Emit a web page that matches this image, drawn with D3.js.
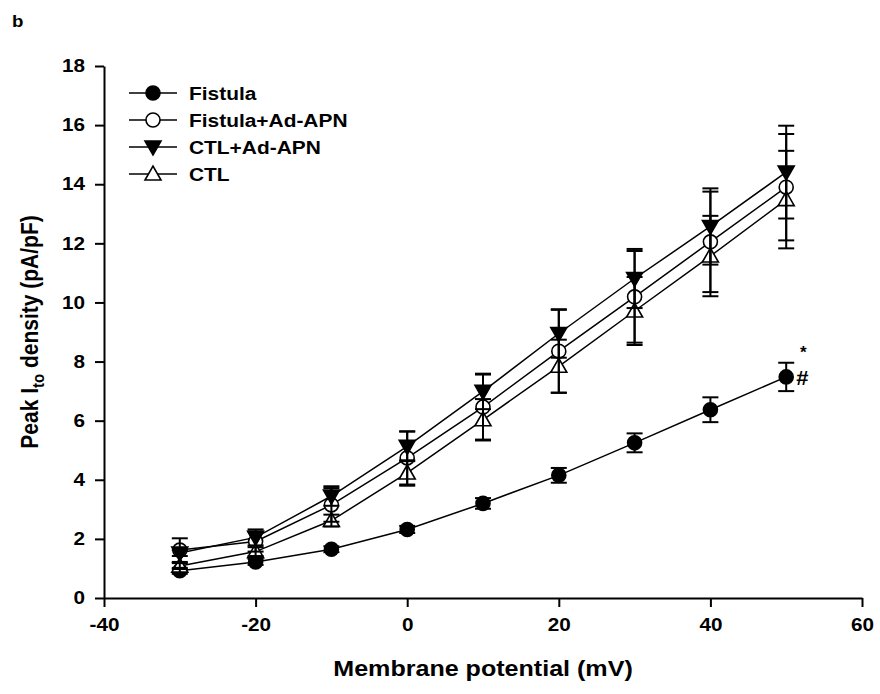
<!DOCTYPE html>
<html><head><meta charset="utf-8">
<script src="https://cdn.jsdelivr.net/npm/d3@7"></script>
<style>body{margin:0;background:#fff}svg{display:block}text{font-family:"Liberation Sans",Arial,sans-serif;font-weight:bold;fill:#000}</style>
</head><body>
<script>
const voltages = [-30,-20,-10,0,10,20,30,40,50];
const fistula = [0.92,1.22,1.65,2.32,3.2,4.15,5.25,6.37,7.48];
const fistulaErr = [0.1,0.1,0.1,0.12,0.18,0.25,0.32,0.42,0.48];
const fistulaApn = [1.62,1.91,3.15,4.74,6.46,8.35,10.19,12.05,13.9];
const fistulaApnErr = [0.4,0.34,0.57,0.9,1.1,1.4,1.55,1.7,1.8];
const ctlApn = [1.52,2.05,3.45,5.13,6.99,8.95,10.81,12.57,14.41];
const ctlApnErr = [0.1,0.27,0.33,0.5,0.6,0.82,1.0,1.29,1.57];
const ctl = [1.08,1.57,2.62,4.23,6.03,7.84,9.71,11.57,13.48];
const ctlErr = [0.1,0.15,0.2,0.43,0.7,0.9,1.15,1.36,1.65];
const seriesNames = ["Fistula","Fistula+Ad-APN","CTL+Ad-APN","CTL"];
const xTicks = [-40,-20,0,20,40,60];
const yTicks = [0,2,4,6,8,10,12,14,16,18];

const series = [
  {name: seriesNames[0], y: fistula, e: fistulaErr, sym: "circle", fill: "#000"},
  {name: seriesNames[1], y: fistulaApn, e: fistulaApnErr, sym: "circle", fill: "#fff"},
  {name: seriesNames[2], y: ctlApn, e: ctlApnErr, sym: "down", fill: "#000"},
  {name: seriesNames[3], y: ctl, e: ctlErr, sym: "up", fill: "#fff"}
];

const W = 880, H = 694;
const svg = d3.select("body").append("svg").attr("width", W).attr("height", H);
const x = d3.scaleLinear().domain([-40,60]).range([104,862]);
const y = d3.scaleLinear().domain([0,18]).range([598,66]);

function symPath(sym){
  if(sym==="circle") return d3.symbol().type(d3.symbolCircle).size(Math.PI*7*7)();
  if(sym==="down") return "M-8,-6L8,-6L0,8Z";
  return "M-8,6L8,6L0,-8Z";
}

// axes
const xAxis = svg.append("g").attr("transform","translate(0,598)")
  .call(d3.axisBottom(x).tickValues(xTicks).tickFormat(d=>String(d)).tickSize(9).tickPadding(11).tickSizeOuter(0));
const yAxis = svg.append("g").attr("transform","translate(104,0)")
  .call(d3.axisLeft(y).tickValues(yTicks).tickFormat(d=>String(d)).tickSize(9).tickPadding(10).tickSizeOuter(0));
[xAxis,yAxis].forEach(a=>{
  a.select(".domain").attr("stroke","#000").attr("stroke-width",2);
  a.selectAll(".tick line").attr("stroke","#000").attr("stroke-width",2);
  a.selectAll(".tick text").style("font-size","18px").style("font-weight","bold").attr("fill","#000");
});
xAxis.selectAll(".tick text").attr("transform","scale(1.15,1)");
yAxis.selectAll(".tick text").attr("x",-16.5).attr("transform","scale(1.15,1)");

// lines
const line = d3.line().x((d,i)=>x(voltages[i])).y(d=>y(d));
series.forEach(s=>{
  svg.append("path").attr("d", line(s.y)).attr("fill","none").attr("stroke","#000").attr("stroke-width",1.5);
});
// markers
series.forEach(s=>{
  svg.append("g").selectAll("path").data(s.y).join("path")
    .attr("d", symPath(s.sym))
    .attr("transform",(d,i)=>`translate(${x(voltages[i])},${y(d)})`)
    .attr("fill", s.fill).attr("stroke","#000").attr("stroke-width",1.6);
});
// error bars
series.forEach(s=>{
  const g = svg.append("g").attr("stroke","#000").attr("stroke-width",2);
  s.y.forEach((v,i)=>{
    const cx = x(voltages[i]), hi = y(v + s.e[i]), lo = y(v - s.e[i]);
    g.append("line").attr("x1",cx).attr("x2",cx).attr("y1",hi).attr("y2",lo);
    g.append("line").attr("x1",cx-8).attr("x2",cx+8).attr("y1",hi).attr("y2",hi);
    g.append("line").attr("x1",cx-8).attr("x2",cx+8).attr("y1",lo).attr("y2",lo);
  });
});

// significance marks
const lastI = voltages.length-1;
const lx = x(voltages[lastI]);
svg.append("text").attr("x", lx+17).attr("y", y(fistula[lastI]+0.9)+8).attr("text-anchor","middle")
  .style("font-size","17px").text("*");
svg.append("text").attr("transform",`translate(${lx+10},${y(fistula[lastI])+8}) scale(1.1,1)`)
  .style("font-size","20px").text("#");

// legend
const leg = svg.append("g");
series.forEach((s,i)=>{
  const ly = 93 + i*27;
  leg.append("line").attr("x1",129).attr("x2",177).attr("y1",ly).attr("y2",ly).attr("stroke","#000").attr("stroke-width",1.6);
  leg.append("path").attr("d",symPath(s.sym)).attr("transform",`translate(153,${ly})`)
    .attr("fill",s.fill).attr("stroke","#000").attr("stroke-width",1.6);
  leg.append("text").attr("transform",`translate(189,${ly}) scale(1.1,1)`).attr("dy","0.35em").style("font-size","19px").text(s.name);
});

// titles
svg.append("text").attr("transform","translate(483,676) scale(1.14,1)").attr("text-anchor","middle").style("font-size","22px")
  .text("Membrane potential (mV)");
const yt = svg.append("text").attr("transform","translate(38,332) rotate(-90) scale(1,1.1)").attr("text-anchor","middle").style("font-size","21px");
yt.append("tspan").text("Peak I");
yt.append("tspan").attr("dy",5).style("font-size","15px").text("to");
yt.append("tspan").attr("dy",-5).text(" density (pA/pF)");

svg.append("text").attr("transform","translate(12,27) scale(1.1,1)").style("font-size","17px").text("b");
</script>
</body></html>
